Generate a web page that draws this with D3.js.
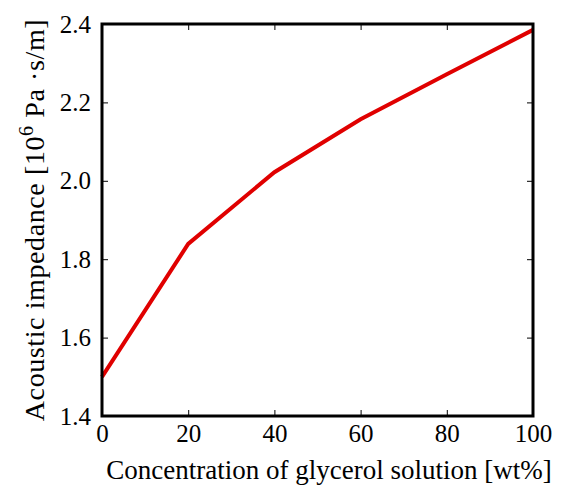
<!DOCTYPE html>
<html><head><meta charset="utf-8">
<script src="https://cdn.jsdelivr.net/npm/d3@7"></script>
<style>body{margin:0;background:#fff}svg{display:block}</style>
</head><body>
<script>
const concentrations = [0, 20, 40, 60, 80, 100];
const impedance = [1.50, 1.839, 2.022, 2.157, 2.272, 2.385];
const xTicks = [0, 20, 40, 60, 80, 100];
const yTicks = [1.4, 1.6, 1.8, 2.0, 2.2, 2.4];

const W = 566, H = 487;
const L = 102, R = 533, T = 24, B = 416;
const svg = d3.select("body").append("svg").attr("width", W).attr("height", H);
const x = d3.scaleLinear().domain([0, 100]).range([L, R]);
const y = d3.scaleLinear().domain([1.4, 2.4]).range([B, T]);
const font = "'Liberation Serif', 'Times New Roman', serif";

const tk = 6;
const bottomAx = d3.axisBottom(x).tickValues(xTicks).tickFormat(d3.format("d")).tickSizeInner(-tk).tickSizeOuter(0).tickPadding(8);
const topAx = d3.axisTop(x).tickValues(xTicks).tickFormat("").tickSizeInner(-tk).tickSizeOuter(0);
const leftAx = d3.axisLeft(y).tickValues(yTicks).tickFormat(d3.format(".1f")).tickSizeInner(-tk).tickSizeOuter(0).tickPadding(11);
const rightAx = d3.axisRight(y).tickValues(yTicks).tickFormat("").tickSizeInner(-tk).tickSizeOuter(0);

function style(g){
  g.select(".domain").remove();
  g.selectAll("line").attr("stroke","#000").attr("stroke-width",1);
  g.selectAll("text").attr("fill","#000").style("font-family",font).style("font-size","25px");
}
svg.append("g").attr("transform",`translate(0,${B})`).call(bottomAx).call(style);
svg.append("g").attr("transform",`translate(0,${T})`).call(topAx).call(style);
svg.append("g").attr("transform",`translate(${L},0)`).call(leftAx).call(style);
svg.append("g").attr("transform",`translate(${R},0)`).call(rightAx).call(style);

svg.append("path")
  .datum(concentrations.map((c,i)=>[c, impedance[i]]))
  .attr("fill","none").attr("stroke","#e00000").attr("stroke-width",4)
  .attr("d", d3.line().x(d=>x(d[0])).y(d=>y(d[1])));

svg.append("rect").attr("x",L).attr("y",T).attr("width",R-L).attr("height",B-T)
  .attr("fill","none").attr("stroke","#000").attr("stroke-width",3);

svg.append("text").attr("x",329).attr("y",479).attr("text-anchor","middle")
  .style("font-family",font).style("font-size","27px").text("Concentration of glycerol solution [wt%]");

const yl = svg.append("text").attr("transform",`translate(44,220) rotate(-90)`)
  .attr("text-anchor","middle").style("font-family",font).style("font-size","28px")
  .style("letter-spacing","0.6px");
yl.append("tspan").text("Acoustic impedance [10");
yl.append("tspan").attr("dy",-11).style("font-size","20px").text("6");
yl.append("tspan").attr("dy",11).text(" Pa \u00b7s/m]");
</script>
</body></html>
